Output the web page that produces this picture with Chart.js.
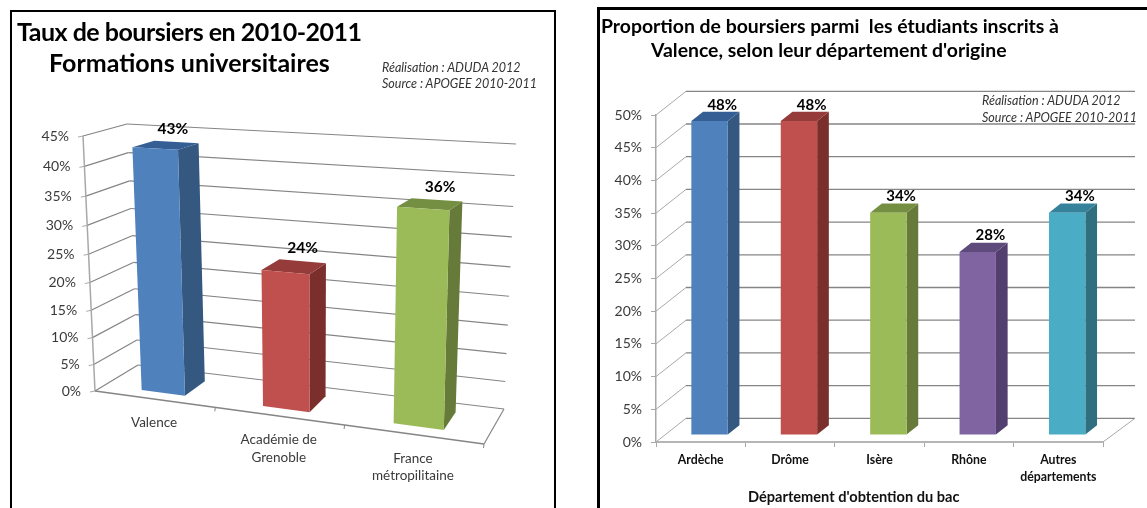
<!DOCTYPE html>
<html lang="fr">
<head>
<meta charset="utf-8">
<title>Taux de boursiers</title>
<script src="https://cdn.jsdelivr.net/npm/chart.js@4/dist/chart.umd.min.js"></script>
<style>
    html, body { margin: 0; padding: 0; background: #fff; width: 1147px; height: 508px; overflow: hidden; }
    body { position: relative; font-family: Lato, sans-serif; filter: blur(0.6px); }
    .panel { position: absolute; box-sizing: border-box; border: solid #000; background: #fff; }
    #panelLeft { left: 10px; top: 10px; width: 546px; height: 540px; border-width: 2px; }
    #panelRight { left: 597px; top: 7px; width: 600px; height: 540px; border-width: 3px 0 0 3px; }
    canvas { position: absolute; top: 0; }
    #chartLeft { left: 0; }
    #chartRight { left: 590px; }
    .txt { position: absolute; white-space: nowrap; color: #000; line-height: 1; transform: translateY(-50%); }
    .bigTitle { font-weight: 700; font-size: 25px; }
    .subTitle { font-weight: 700; font-size: 19.4px; }
    .note { font-style: italic; font-size: 12.5px; color: #333; }
    .axisTitle { font-weight: 700; font-size: 14.6px; color: #111; }
</style>
</head>
<body>
<div class="panel" id="panelLeft"></div>
<div class="panel" id="panelRight"></div>
<canvas id="chartLeft" width="560" height="508"></canvas>
<canvas id="chartRight" width="557" height="508"></canvas>

<div class="txt bigTitle" style="left:17px;top:31px;letter-spacing:-0.5px">Taux de boursiers en 2010-2011</div>
<div class="txt bigTitle" style="left:49px;top:62px">Formations universitaires</div>
<div class="txt note" style="left:382px;top:68px">Réalisation : ADUDA 2012</div>
<div class="txt note" style="left:382px;top:84px">Source : APOGEE 2010-2011</div>

<div class="txt subTitle" style="left:601px;top:26px">Proportion de boursiers parmi&nbsp; les étudiants inscrits à</div>
<div class="txt subTitle" style="left:651px;top:50px">Valence, selon leur département d'origine</div>
<div class="txt note" style="left:982px;top:101px">Réalisation : ADUDA 2012</div>
<div class="txt note" style="left:982px;top:118px">Source : APOGEE 2010-2011</div>
<div class="txt axisTitle" style="left:748px;top:497px">Département d'obtention du bac</div>

<script>
// left chart data
const tauxLabels = ['Valence', ['Académie de', 'Grenoble'], ['France', 'métropilitaine']];
const tauxValues = [43, 24, 36];
const tauxFront = ['#4f81bd', '#c0504d', '#9bbb59'];
const tauxTop = ['#355f94', '#953c3a', '#748e42'];
const tauxSide = ['#34587f', '#7b2f2d', '#667b3a'];

// right chart data
const deptLabels = ['Ardèche', 'Drôme', 'Isère', 'Rhône', ['Autres', 'départements']];
const deptValues = [48, 48, 34, 28, 34];
const deptFront = ['#4f81bd', '#c0504d', '#9bbb59', '#8064a2', '#4bacc6'];
const deptTop = ['#355f94', '#953c3a', '#748e42', '#5f4a7c', '#36829b'];
const deptSide = ['#34587f', '#7b2f2d', '#667b3a', '#533f6e', '#2f6f80'];

const GRID_COLOR = '#858585';
const AXIS_COLOR = '#a8a8a8';
const TEXT_COLOR = '#3a3a3a';
const FONT = 'Lato, sans-serif';

function percent(value) {
    return value + '%';
}

function line(ctx, x1, y1, x2, y2, color, width) {
    ctx.beginPath();
    ctx.moveTo(x1, y1);
    ctx.lineTo(x2, y2);
    ctx.strokeStyle = color;
    ctx.lineWidth = width;
    ctx.stroke();
}

function face(ctx, points, color) {
    ctx.beginPath();
    points.forEach((p, i) => i ? ctx.lineTo(p[0], p[1]) : ctx.moveTo(p[0], p[1]));
    ctx.closePath();
    ctx.fillStyle = color;
    ctx.fill();
}

function mix(a, b, t) {
    return [a[0] + (b[0] - a[0]) * t, a[1] + (b[1] - a[1]) * t];
}

// corners of the left chart box, in canvas pixels
const FRONT_BOTTOM_LEFT = [95, 391], FRONT_TOP_LEFT = [83, 136];
const FRONT_BOTTOM_RIGHT = [484, 444], FRONT_TOP_RIGHT = [493, 156];
const BACK_BOTTOM_LEFT = [138, 365], BACK_TOP_LEFT = [127, 124];
const BACK_BOTTOM_RIGHT = [504, 409], BACK_TOP_RIGHT = [516, 144];

// the flat chart area is mapped on the tilted box
function project(area, px, py, depth) {
    const u = (px - area.left) / area.width;
    const v = (area.bottom - py) / area.height;
    const uu = u / (1 + 0.117 * (1 - u));
    const vv = v / (1 + 0.08 * (1 - v));
    const front = mix(mix(FRONT_BOTTOM_LEFT, FRONT_BOTTOM_RIGHT, uu), mix(FRONT_TOP_LEFT, FRONT_TOP_RIGHT, uu), vv);
    const back = mix(mix(BACK_BOTTOM_LEFT, BACK_BOTTOM_RIGHT, uu), mix(BACK_TOP_LEFT, BACK_TOP_RIGHT, uu), vv);
    return mix(front, back, depth);
}

const tiltedBox = {
    id: 'tiltedBox',
    beforeDatasetsDraw(chart) {
        const { ctx, chartArea: area, scales } = chart;
        const meta = chart.getDatasetMeta(0);
        const P = (x, y, d) => project(area, x, y, d);

        ctx.save();
        // walls
        scales.y.ticks.forEach(tick => {
            const y = scales.y.getPixelForValue(tick.value);
            const a = P(area.left, y, 0), b = P(area.left, y, 1), c = P(area.right, y, 1);
            line(ctx, a[0], a[1], b[0], b[1], GRID_COLOR, 1.2);
            line(ctx, b[0], b[1], c[0], c[1], GRID_COLOR, 1.2);
            line(ctx, a[0], a[1], a[0] - 5, a[1] + 1, AXIS_COLOR, 1);

            ctx.font = '14px ' + FONT;
            ctx.fillStyle = TEXT_COLOR;
            ctx.textAlign = 'right';
            ctx.textBaseline = 'middle';
            ctx.fillText(tick.label, a[0] - 14, a[1]);
        });
        const f0 = P(area.left, area.bottom, 0), f1 = P(area.left, area.top, 0);
        const r0 = P(area.right, area.bottom, 0), r1 = P(area.right, area.bottom, 1);
        line(ctx, f0[0], f0[1], f1[0], f1[1], AXIS_COLOR, 1.5);
        line(ctx, f0[0], f0[1], r0[0], r0[1], GRID_COLOR, 1.4);
        line(ctx, r0[0], r0[1], r1[0], r1[1], GRID_COLOR, 1.2);

        // category ticks and labels under the floor
        const labels = scales.x.getLabels();
        labels.forEach((label, i) => {
            const edge = scales.x.getPixelForValue(i) + scales.x.width / labels.length / 2;
            const t = P(edge, area.bottom, 0);
            line(ctx, t[0], t[1], t[0] - 0.5, t[1] + 4, GRID_COLOR, 1);

            const c = P(scales.x.getPixelForValue(i), area.bottom, 0);
            ctx.font = '13.5px ' + FONT;
            ctx.fillStyle = TEXT_COLOR;
            ctx.textAlign = 'center';
            ctx.textBaseline = 'middle';
            [].concat(label).forEach((txt, n) => ctx.fillText(txt, c[0], c[1] + 24 + n * 17.5));
        });

        // bars
        meta.data.forEach((bar, i) => {
            const l = bar.x - bar.width / 2, r = bar.x + bar.width / 2;
            const y = bar.y, base = bar.base;
            const dA = 0.23, dB = 0.75;
            face(ctx, [P(r, y, dA), P(r, y, dB), P(r, base, dB), P(r, base, dA)], tauxSide[i]);
            face(ctx, [P(l, y, dA), P(r, y, dA), P(r, y, dB), P(l, y, dB)], tauxTop[i]);
            face(ctx, [P(l, y, dA), P(r, y, dA), P(r, base, dA), P(l, base, dA)], tauxFront[i]);

            const lab = P(bar.x, y, dB);
            const shift = (bar.x - area.left) / area.width * 10 - 5;
            ctx.font = 'bold 15.5px ' + FONT;
            ctx.fillStyle = '#000';
            ctx.textAlign = 'center';
            ctx.textBaseline = 'middle';
            ctx.fillText(percent(tauxValues[i]), lab[0] + shift, lab[1] - 13);
        });
        ctx.restore();
        return false;
    }
};

// depth of the right chart: plain oblique offset
const DEPTH_X = 30, DEPTH_Y = 23.7;

const obliqueBox = {
    id: 'obliqueBox',
    beforeDatasetsDraw(chart) {
        const { ctx, chartArea: area, scales } = chart;
        const meta = chart.getDatasetMeta(0);

        ctx.save();
        const wallRight = area.right + DEPTH_X + 2;
        scales.y.ticks.forEach(tick => {
            const y = scales.y.getPixelForValue(tick.value);
            line(ctx, area.left, y, area.left + DEPTH_X, y - DEPTH_Y, AXIS_COLOR, 1);
            line(ctx, area.left + DEPTH_X, y - DEPTH_Y, wallRight, y - DEPTH_Y, GRID_COLOR, 1.3);
        });
        line(ctx, area.right, area.bottom, wallRight, area.bottom - DEPTH_Y, AXIS_COLOR, 1);

        meta.data.forEach((bar, i) => {
            const l = bar.x - bar.width / 2, r = bar.x + bar.width / 2;
            const P = (x, y, d) => [x + d * DEPTH_X, y - d * DEPTH_Y];
            const dA = 0.295, dB = 0.685;
            face(ctx, [P(r, bar.y, dA), P(r, bar.y, dB), P(r, bar.base, dB), P(r, bar.base, dA)], deptSide[i]);
            face(ctx, [P(l, bar.y, dA), P(r, bar.y, dA), P(r, bar.y, dB), P(l, bar.y, dB)], deptTop[i]);
            face(ctx, [P(l, bar.y, dA), P(r, bar.y, dA), P(r, bar.base, dA), P(l, bar.base, dA)], deptFront[i]);

            const lab = P(bar.x, bar.y, dB);
            ctx.font = 'bold 15px ' + FONT;
            ctx.fillStyle = '#000';
            ctx.textAlign = 'center';
            ctx.textBaseline = 'middle';
            ctx.fillText(percent(deptValues[i]), lab[0] + 1, lab[1] - 7);
        });
        ctx.restore();
        return false;
    }
};

new Chart(document.getElementById('chartLeft'), {
    type: 'bar',
    data: {
        labels: tauxLabels,
        datasets: [{ data: tauxValues, backgroundColor: tauxFront, barPercentage: 0.365, categoryPercentage: 1 }]
    },
    options: {
        responsive: false,
        animation: false,
        events: [],
        layout: { padding: { left: 40, right: 40, top: 100, bottom: 60 } },
        plugins: { legend: { display: false }, tooltip: { enabled: false } },
        scales: {
            x: {
                ticks: { display: false },
                grid: { display: false },
                border: { display: false }
            },
            y: {
                min: 0,
                max: 45,
                ticks: { display: false, stepSize: 5, callback: percent },
                grid: { display: false },
                border: { display: false }
            }
        }
    },
    plugins: [tiltedBox]
});

new Chart(document.getElementById('chartRight'), {
    type: 'bar',
    data: {
        labels: deptLabels,
        datasets: [{ data: deptValues, backgroundColor: deptFront, barPercentage: 0.407, categoryPercentage: 1 }]
    },
    options: {
        responsive: false,
        animation: false,
        events: [],
        layout: { padding: { left: 0, right: 44, top: 115, bottom: 0 } },
        plugins: { legend: { display: false }, tooltip: { enabled: false } },
        scales: {
            x: {
                afterFit: scale => { scale.height = 66; },
                ticks: {
                    color: '#111',
                    padding: 4,
                    maxRotation: 0,
                    font: { family: FONT, size: 12.3, weight: 'bold', lineHeight: 1.4 }
                },
                grid: { drawOnChartArea: false, color: AXIS_COLOR, tickLength: 5 },
                border: { color: '#b5b5b5', width: 2 }
            },
            y: {
                afterFit: scale => { scale.width = 66; },
                min: 0,
                max: 50,
                ticks: {
                    stepSize: 5,
                    callback: percent,
                    color: TEXT_COLOR,
                    padding: 9,
                    font: { family: FONT, size: 14 }
                },
                grid: { drawOnChartArea: false, color: AXIS_COLOR, tickLength: 5 },
                border: { color: AXIS_COLOR, width: 1.5 }
            }
        }
    },
    plugins: [obliqueBox]
});
</script>
</body>
</html>
